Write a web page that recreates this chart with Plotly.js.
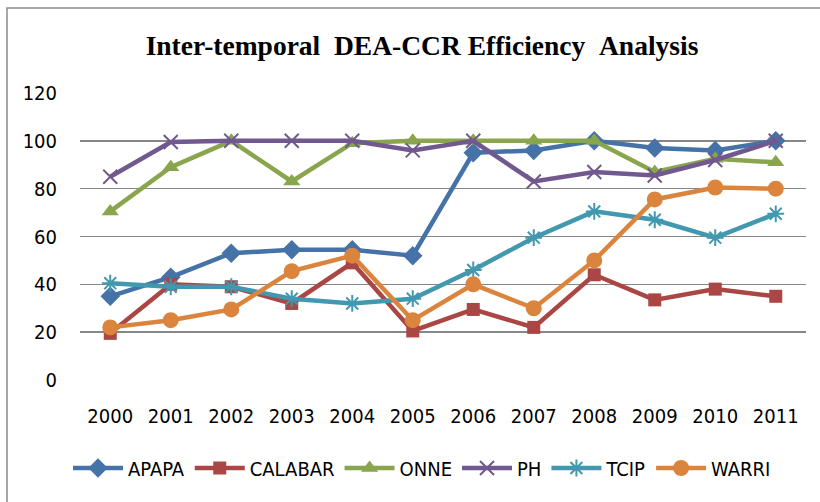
<!DOCTYPE html>
<html>
<head>
<meta charset="utf-8">
<script src="https://cdn.plot.ly/plotly-3.0.1.min.js"></script>
<style>html,body{margin:0;padding:0;background:#fff;}#chart{width:820px;height:502px;}</style>
</head>
<body>
<div id="chart"></div>
<script>
var years = ['2000','2001','2002','2003','2004','2005','2006','2007','2008','2009','2010','2011'];
var APAPA   = [35, 43, 53, 54.5, 54.5, 52, 95, 96, 100, 97, 96, 100];
var CALABAR = [19.5, 40, 39, 32, 49, 20.5, 29.5, 22, 44, 33.5, 38, 35];
var ONNE    = [70.5, 89, 100, 83, 99, 100, 100, 100, 100, 87, 92.5, 91];
var PH      = [85, 99.5, 100, 100, 100, 96, 100, 83, 87, 85.5, 92, 100];
var TCIP    = [40.5, 39, 39, 34, 32, 34, 46, 59.5, 70.5, 67, 59.5, 69.5];
var WARRI   = [22, 25, 29.5, 45.5, 52, 25, 40, 30, 50, 75.5, 80.5, 80];
var yTicks  = [0, 20, 40, 60, 80, 100, 120];

var font = "'DejaVu Sans Condensed', 'Liberation Sans Narrow', sans-serif";

function tr(name, y, color, symbol, size, open) {
  var m = {symbol: symbol, size: size, color: color};
  if (open) { m.line = {color: color, width: 2}; }
  else { m.line = {width: 0}; }
  return {x: years, y: y, name: name, type: 'scatter', mode: 'lines+markers',
          line: {color: color, width: 4.5}, marker: m};
}

var data = [
  tr('APAPA', APAPA, '#4572A7', 'diamond', 15, false),
  tr('CALABAR', CALABAR, '#AA4643', 'square', 13, false),
  tr('ONNE', ONNE, '#89A54E', 'triangle-up', 15, false),
  tr('PH', PH, '#71588F', 'x-thin-open', 14, true),
  tr('TCIP', TCIP, '#4198AF', 'asterisk-open', 14, true),
  tr('WARRI', WARRI, '#DB843D', 'circle', 16, false)
];

var layout = {
  width: 820, height: 502,
  margin: {l: 80, r: 14, t: 93, b: 122},
  paper_bgcolor: '#fff', plot_bgcolor: '#fff',
  showlegend: true,
  title: {
    text: '<b>Inter-temporal\u00a0\u00a0DEA-CCR\u00a0Efficiency\u00a0\u00a0Analysis</b>',
    font: {family: "'Liberation Serif', 'Times New Roman', serif", size: 27.5, color: '#000'},
    x: 422 / 820, xref: 'container', xanchor: 'center',
    y: 1 - 45 / 502, yref: 'container', yanchor: 'middle'
  },
  xaxis: {
    type: 'category', range: [-0.5, 11.5], showgrid: false, zeroline: false,
    showline: false, ticks: '', tickfont: {family: font, size: 20, color: '#000'},
    fixedrange: true, ticklabelstandoff: 22
  },
  yaxis: {
    range: [0, 120], tickvals: yTicks, ticktext: yTicks.map(String),
    showgrid: true, gridcolor: '#878787', gridwidth: 1.6, zeroline: false,
    showline: false, ticks: '', tickfont: {family: font, size: 20, color: '#000'},
    ticklabelstandoff: 22, fixedrange: true
  },
  legend: {
    orientation: 'h', x: (422 - 80) / 726, xanchor: 'center', y: (380 - 468) / 287, yanchor: 'middle',
    font: {family: font, size: 20, color: '#000'}, itemwidth: 50, tracegroupgap: 0,
    bgcolor: 'rgba(0,0,0,0)'
  },
  shapes: [{
    type: 'rect', xref: 'paper', yref: 'paper', layer: 'below',
    x0: (7 - 80) / 726, x1: (830 - 80) / 726, y0: (380 - 515) / 287, y1: (380 - 8) / 287,
    line: {color: '#8a8a8a', width: 1.5}, fillcolor: 'rgba(0,0,0,0)'
  }]
};

Plotly.newPlot('chart', data, layout, {displayModeBar: false, staticPlot: true});
</script>
</body>
</html>
